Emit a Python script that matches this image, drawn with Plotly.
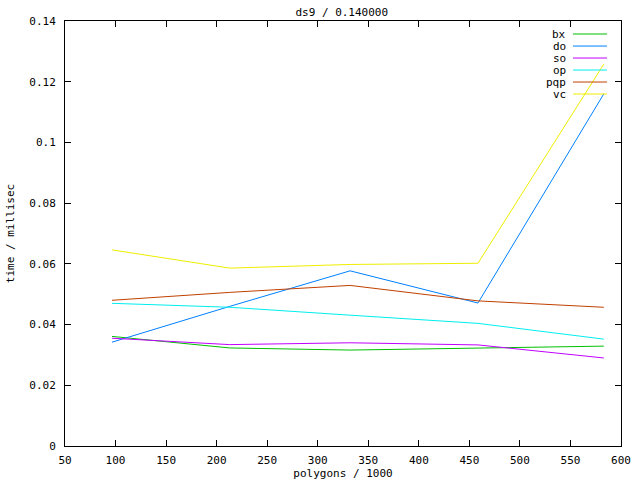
import plotly.graph_objects as go

x_vals = [96.5, 213, 332, 458.5, 583]
bx = [0.0361, 0.0323, 0.0316, 0.0322, 0.0329]
do = [0.0342, 0.0460, 0.0577, 0.0471, 0.1160]
so = [0.0355, 0.0334, 0.0340, 0.0333, 0.0290]
op = [0.0470, 0.0457, 0.0431, 0.0404, 0.0352]
pqp = [0.0480, 0.0506, 0.0529, 0.0478, 0.0457]
vc = [0.0646, 0.0586, 0.0598, 0.0602, 0.1258]

names = ["bx", "do", "so", "op", "pqp", "vc"]
series = [bx, do, so, op, pqp, vc]
colors = ["#00c000", "#0080ff", "#c000ff", "#00eeee", "#c04000", "#eeee00"]

FONT = "DejaVu Sans Mono"

fig = go.Figure()
for n, s, c in zip(names, series, colors):
    fig.add_trace(go.Scatter(x=x_vals, y=s, mode="lines", name=n,
                             line=dict(color=c, width=1), showlegend=False))

# gnuplot-style legend (right aligned labels, sample line to the right)
row_y = [0.9694, 0.9411, 0.9129, 0.8846, 0.8564, 0.8282]
for n, c, yy in zip(names, colors, row_y):
    fig.add_annotation(x=0.9055, y=yy, xref="paper", yref="paper", text=n,
                       showarrow=False, xanchor="right", yanchor="middle",
                       font=dict(family=FONT, size=11, color="black"))
    fig.add_shape(type="line", xref="paper", yref="paper",
                  x0=0.9137, x1=0.9748, y0=yy, y1=yy,
                  line=dict(color=c, width=1))

axis_common = dict(showline=True, linecolor="black", linewidth=1, mirror="allticks",
                   ticks="inside", ticklen=6, tickcolor="black", showgrid=False,
                   zeroline=False, automargin=False,
                   tickfont=dict(family=FONT, size=11, color="black"))

fig.update_layout(
    width=640, height=480,
    margin=dict(l=65, r=19, t=21, b=34, autoexpand=False),
    paper_bgcolor="white", plot_bgcolor="white",
    title=dict(text="ds9 / 0.140000", x=0.534, xanchor="center", y=0.975, yanchor="middle",
               yref="container", automargin=False,
               font=dict(family=FONT, size=11, color="black")),
    xaxis=dict(range=[50, 600], dtick=50, tick0=50, ticklabelstandoff=4,
               title=dict(text="polygons / 1000", standoff=6,
                          font=dict(family=FONT, size=11, color="black")),
               **axis_common),
    yaxis=dict(range=[0, 0.14], dtick=0.02, tick0=0, ticklabelstandoff=6,
               title=dict(text="time / millisec", standoff=12,
                          font=dict(family=FONT, size=11, color="black")),
               **axis_common),
)

fig.write_html("out.html", config={"displayModeBar": False},
               post_script="document.body.style.margin='0px';")
